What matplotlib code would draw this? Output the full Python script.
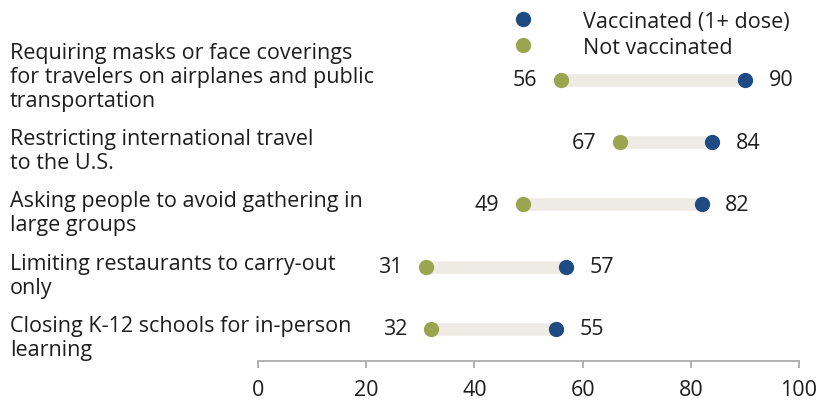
import matplotlib.pyplot as plt
from matplotlib.lines import Line2D

labels = [
    "Requiring masks or face coverings\nfor travelers on airplanes and public\ntransportation",
    "Restricting international travel\nto the U.S.",
    "Asking people to avoid gathering in\nlarge groups",
    "Limiting restaurants to carry-out\nonly",
    "Closing K-12 schools for in-person\nlearning",
]
vaccinated = [90, 84, 82, 57, 55]
not_vaccinated = [56, 67, 49, 31, 32]
ticks = [0, 20, 40, 60, 80, 100]

blue = "#1f4b83"
green = "#9aa64f"
bar_col = "#eeebe4"
txt = "#1e1e1e"
fs = 15.5

plt.rcParams['font.family'] = ['Open Sans', 'DejaVu Sans']

fig = plt.figure(figsize=(8.3, 4.02), dpi=100)
ax = fig.add_axes([258 / 830, 40 / 402, 541 / 830, 362 / 402])

ypos = list(range(len(labels)))
for y, v, n, lab in zip(ypos, vaccinated, not_vaccinated, labels):
    ax.plot([n, v], [y, y], color=bar_col, lw=9, solid_capstyle='butt', zorder=1)
    ax.plot(v, y, 'o', color=blue, ms=11, mec='none', zorder=3)
    ax.plot(n, y, 'o', color=green, ms=11, mec='none', zorder=3)
    ax.annotate(str(n), (n, y), xytext=(-17, 0), textcoords='offset points',
                ha='right', va='center', fontsize=fs, color=txt)
    ax.annotate(str(v), (v, y), xytext=(17, 0), textcoords='offset points',
                ha='left', va='center', fontsize=fs, color=txt)
    ax.annotate(lab, (0, y), xycoords=('figure pixels', 'data'), xytext=(10, -26),
                textcoords='offset pixels', ha='left', va='baseline',
                fontsize=fs, color=txt, linespacing=1.19, annotation_clip=False)

ax.set_xlim(0, 100)
ax.set_ylim(4.514, -1.30)
ax.set_xticks(ticks)
ax.set_yticks([])
for s in ['top', 'right', 'left']:
    ax.spines[s].set_visible(False)
ax.spines['bottom'].set_color('#a6a6a6')
ax.spines['bottom'].set_linewidth(1.2)
ax.tick_params(axis='x', length=5, width=1.2, color='#a6a6a6', pad=8,
               labelsize=fs, labelcolor=txt)
ax.patch.set_visible(False)

handles = [
    Line2D([], [], marker='o', ls='none', color=blue, ms=11, mec='none', label='Vaccinated (1+ dose)'),
    Line2D([], [], marker='o', ls='none', color=green, ms=11, mec='none', label='Not vaccinated'),
]
fig.legend(handles=handles, loc='upper left', bbox_to_anchor=(512 / 830, 1 - 12 / 402),
           frameon=False, fontsize=fs, handlelength=1, handletextpad=2.3,
           labelspacing=0.22, borderpad=0, borderaxespad=0, labelcolor=txt)

fig.savefig('out.png', dpi=100)
